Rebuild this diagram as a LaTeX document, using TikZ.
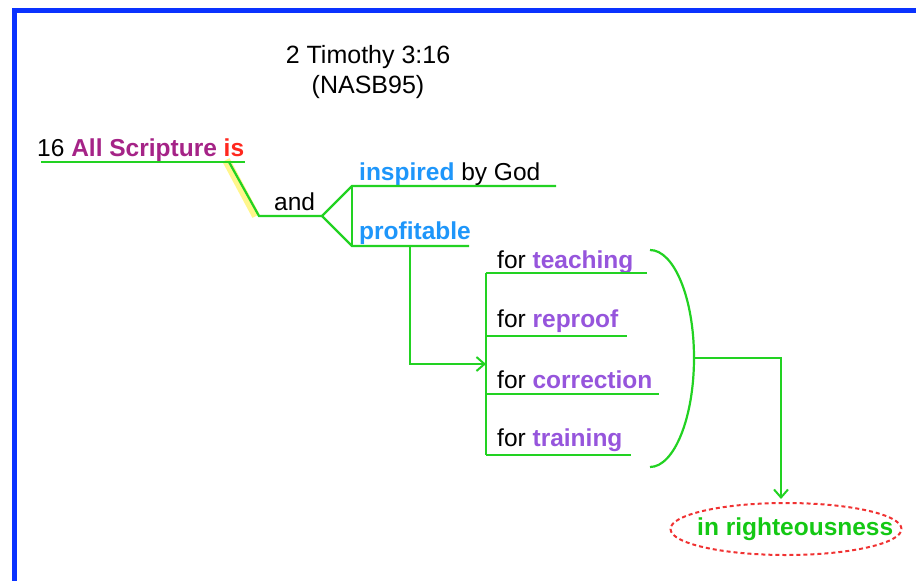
\documentclass[tikz,border=0pt]{standalone}
\usepackage{fontspec}
\setmainfont{Liberation Sans}
\usetikzlibrary{arrows.meta,shapes.geometric}

\definecolor{frameblue}{RGB}{10,50,255}
\definecolor{linegreen}{RGB}{34,210,34}
\definecolor{textgreen}{RGB}{20,200,20}
\definecolor{subjpurple}{RGB}{165,35,135}
\definecolor{verbred}{RGB}{255,40,30}
\definecolor{predblue}{RGB}{30,150,250}
\definecolor{usepurple}{RGB}{150,85,220}
\definecolor{markyellow}{RGB}{255,246,140}
\definecolor{ovalred}{RGB}{240,50,50}

\begin{document}
\begin{tikzpicture}[x=1pt,y=-1pt,
  link/.style={draw=linegreen, line width=2.2pt, line join=miter},
  arrowlink/.style={link, -{Straight Barb[length=8pt,width=14pt,line width=2pt]}},
  word/.style={anchor=base west, inner sep=0pt, font=\fontsize{24.5}{28}\selectfont},
  heading/.style={anchor=base, inner sep=0pt, font=\fontsize{25}{29}\selectfont}]
\useasboundingbox (0,0) rectangle (916,581);

% frame along the top and left edges
\draw[frameblue, line width=5pt, line join=miter] (916,10.5) -- (14,10.5) -- (14,581);

% heading
\node[heading] (title) at (368,63) {2 Timothy 3:16};
\node[heading] (version) at (368,93) {(NASB95)};

% words of the verse
\node[word] (verse) at (37,156) {16 \textbf{\textcolor{subjpurple}{All Scripture} \textcolor{verbred}{is}}};
\node[word] (andw) at (274,210) {and};
\node[word] (inspired) at (359,180) {\textbf{\textcolor{predblue}{inspired}} by God};
\node[word] (profitable) at (359,239) {\textbf{\textcolor{predblue}{profitable}}};
\node[word] (teach) at (497,268) {for \textbf{\textcolor{usepurple}{teaching}}};
\node[word] (reproof) at (497,327) {for \textbf{\textcolor{usepurple}{reproof}}};
\node[word] (correct) at (497,388) {for \textbf{\textcolor{usepurple}{correction}}};
\node[word] (train) at (497,446) {for \textbf{\textcolor{usepurple}{training}}};

% goal of the training
\node[ellipse, draw=ovalred, dashed, dash pattern=on 4pt off 3pt, line width=2pt,
      minimum width=231pt, minimum height=52pt, inner sep=0pt] (goal) at (786,529) {};
\node[word, text=textgreen] (righteous) at (697,535) {\textbf{in righteousness}};

% base-line points of the diagram
\coordinate (subjL) at (41,162);
\coordinate (subjR) at (245,162);
\coordinate (slantTop) at (229,162);
\coordinate (slantBot) at (259,216);
\coordinate (fork) at (322,216);
\coordinate (inspL) at (352,186);
\coordinate (inspR) at (556,186);
\coordinate (profL) at (352,246);
\coordinate (profR) at (469,246);
\coordinate (profDrop) at (410,246);
\coordinate (profTurn) at (410,364);
\coordinate (listIn) at (486,364);
\coordinate (listTop) at (486,273);
\coordinate (listBot) at (486,455);
\coordinate (teachR) at (647,273);
\coordinate (reproofL) at (486,336);
\coordinate (reproofR) at (627,336);
\coordinate (correctL) at (486,394);
\coordinate (correctR) at (659,394);
\coordinate (trainR) at (631,455);
\coordinate (braceTop) at (650,250);
\coordinate (braceMid) at (694,358);
\coordinate (braceBot) at (650,467);
\coordinate (braceTurn) at (781,358);
\coordinate (goalTop) at (781,499);

% highlight behind the slanted connector
\draw[markyellow, line width=8pt] ([xshift=-3pt,yshift=2pt]slantTop) -- ([xshift=-3pt]slantBot);

% subject line and its slanted link
\draw[link] (subjL) -- (subjR);
\draw[link] (slantTop) -- (slantBot) -- (fork);

% compound predicate
\draw[link] (fork) -- (inspL) -- (inspR);
\draw[link] (fork) -- (profL) -- (profR);
\draw[link] (inspL) -- (profL);

% profitable for ...
\draw[arrowlink] (profDrop) -- (profTurn) -- (listIn);
\draw[link] (listTop) -- (listBot);
\draw[link] (listTop) -- (teachR);
\draw[link] (reproofL) -- (reproofR);
\draw[link] (correctL) -- (correctR);
\draw[link] (listBot) -- (trainR);

% bracket gathering the four uses
\draw[link] (braceTop) .. controls (674,250) and (694,298) .. (braceMid)
            .. controls (694,418) and (674,467) .. (braceBot);
\draw[arrowlink] (braceMid) -- (braceTurn) -- (goalTop);
\end{tikzpicture}
\end{document}
